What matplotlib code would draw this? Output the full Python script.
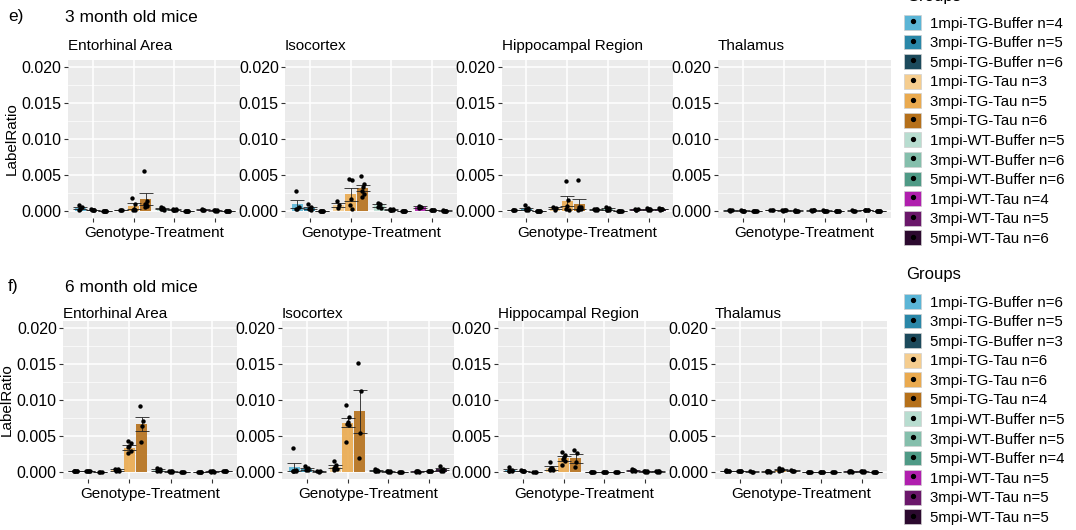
import numpy as np
import matplotlib
matplotlib.use("Agg")
import matplotlib.pyplot as plt
from matplotlib.patches import Patch
from matplotlib.lines import Line2D
from matplotlib.legend_handler import HandlerTuple

plt.rcParams['font.family'] = ['Liberation Sans', 'DejaVu Sans']

# Grupos (ordem da legenda) e cores
GRUPOS = ['1mpi-TG-Buffer', '3mpi-TG-Buffer', '5mpi-TG-Buffer',
          '1mpi-TG-Tau', '3mpi-TG-Tau', '5mpi-TG-Tau',
          '1mpi-WT-Buffer', '3mpi-WT-Buffer', '5mpi-WT-Buffer',
          '1mpi-WT-Tau', '3mpi-WT-Tau', '5mpi-WT-Tau']
CORES = ['#5bb5d6', '#2a87a8', '#1c4a5c',
         '#f5cd8f', '#eaaa4f', '#b5701a',
         '#b8ddd0', '#85bfac', '#4f9a86',
         '#b01fae', '#6a176a', '#2c0a2f']
REGIOES = ['Entorhinal Area', 'Isocortex', 'Hippocampal Region', 'Thalamus']
CATEGORIAS = ['TG-Buffer', 'TG-Tau', 'WT-Buffer', 'WT-Tau']

N_3M = [4, 5, 6, 3, 5, 6, 5, 6, 6, 4, 5, 6]
N_6M = [6, 5, 3, 6, 6, 4, 5, 5, 4, 5, 5, 5]

# --- 3 meses (valores em unidades de 1e-3) ---
media_3m_ea = [0.45, 0.12, 0.02, 0.12, 0.65, 1.7, 0.3, 0.15, 0.02, 0.15, 0.05, 0.03]
sem_3m_ea = [0.15, 0.04, 0.01, 0.03, 0.4, 0.85, 0.1, 0.05, 0.01, 0.04, 0.02, 0.01]
pontos_3m_ea = [[0.8, 0.6, 0.3, 0.1], [0.2, 0.15, 0.1, 0.08, 0.05], [0.03, 0.02, 0.02, 0.01, 0.02, 0.03],
                [0.15, 0.12, 0.1], [1.8, 0.9, 0.3, 0.15, 0.1], [5.5, 1.4, 1.0, 0.9, 0.7, 0.5],
                [0.5, 0.4, 0.3, 0.2, 0.1], [0.25, 0.2, 0.15, 0.1, 0.1, 0.1], [0.03, 0.02, 0.02, 0.02, 0.01, 0.02],
                [0.2, 0.15, 0.15, 0.1], [0.07, 0.05, 0.05, 0.04, 0.04], [0.04, 0.03, 0.03, 0.03, 0.02, 0.03]]

media_3m_iso = [0.95, 0.45, 0.03, 0.85, 2.3, 3.15, 0.75, 0.15, 0.03, 0.55, 0.1, 0.04]
sem_3m_iso = [0.6, 0.15, 0.01, 0.3, 0.9, 0.45, 0.15, 0.05, 0.01, 0.1, 0.03, 0.01]
pontos_3m_iso = [[2.7, 0.6, 0.3, 0.2], [0.9, 0.6, 0.4, 0.2, 0.1], [0.04, 0.03, 0.03, 0.02, 0.03, 0.03],
                 [1.4, 0.8, 0.4], [4.5, 4.3, 1.6, 0.8, 0.3], [4.8, 3.7, 3.3, 2.8, 2.4, 1.9],
                 [1.1, 0.9, 0.7, 0.6, 0.4], [0.3, 0.2, 0.15, 0.1, 0.1, 0.05], [0.04, 0.03, 0.03, 0.02, 0.03, 0.03],
                 [0.7, 0.6, 0.5, 0.4], [0.15, 0.1, 0.1, 0.08, 0.07], [0.05, 0.04, 0.04, 0.03, 0.04, 0.04]]

media_3m_hip = [0.1, 0.3, 0.03, 0.35, 1.35, 1.0, 0.2, 0.25, 0.03, 0.2, 0.22, 0.25]
sem_3m_hip = [0.03, 0.15, 0.01, 0.12, 0.7, 0.7, 0.05, 0.1, 0.01, 0.05, 0.05, 0.05]
pontos_3m_hip = [[0.15, 0.1, 0.08, 0.05], [0.75, 0.4, 0.2, 0.1, 0.05], [0.04, 0.03, 0.03, 0.02, 0.03, 0.03],
                 [0.6, 0.35, 0.1], [4.1, 1.5, 0.7, 0.3, 0.15], [4.3, 0.6, 0.5, 0.3, 0.2, 0.1],
                 [0.3, 0.25, 0.2, 0.15, 0.1], [0.6, 0.35, 0.2, 0.15, 0.1, 0.1], [0.04, 0.03, 0.03, 0.02, 0.03, 0.03],
                 [0.3, 0.2, 0.15, 0.15], [0.35, 0.25, 0.2, 0.15, 0.15], [0.4, 0.3, 0.25, 0.2, 0.2, 0.15]]

media_3m_tal = [0.05, 0.04, 0.03, 0.06, 0.05, 0.04, 0.05, 0.04, 0.03, 0.04, 0.08, 0.03]
sem_3m_tal = [0.01, 0.01, 0.01, 0.01, 0.01, 0.01, 0.01, 0.01, 0.01, 0.01, 0.02, 0.01]
pontos_3m_tal = [[0.06, 0.05, 0.05, 0.04], [0.05, 0.04, 0.04, 0.03, 0.04], [0.04, 0.03, 0.03, 0.02, 0.03, 0.03],
                 [0.07, 0.06, 0.05], [0.06, 0.05, 0.05, 0.04, 0.05], [0.05, 0.04, 0.04, 0.03, 0.04, 0.04],
                 [0.06, 0.05, 0.05, 0.04, 0.05], [0.05, 0.04, 0.04, 0.03, 0.04, 0.04], [0.04, 0.03, 0.03, 0.02, 0.03, 0.03],
                 [0.05, 0.04, 0.04, 0.03], [0.12, 0.09, 0.07, 0.06, 0.06], [0.04, 0.03, 0.03, 0.02, 0.03, 0.03]]

# --- 6 meses ---
media_6m_ea = [0.1, 0.08, 0.03, 0.25, 3.35, 6.7, 0.25, 0.05, 0.03, 0.02, 0.05, 0.1]
sem_6m_ea = [0.03, 0.02, 0.01, 0.08, 0.35, 1.0, 0.1, 0.02, 0.01, 0.01, 0.02, 0.03]
pontos_6m_ea = [[0.15, 0.12, 0.1, 0.1, 0.08, 0.05], [0.12, 0.1, 0.08, 0.05, 0.05], [0.04, 0.03, 0.02],
                [0.45, 0.35, 0.25, 0.2, 0.15, 0.1], [4.3, 4.0, 3.6, 3.4, 2.9, 2.6], [9.1, 7.1, 6.4, 4.2],
                [0.5, 0.35, 0.2, 0.15, 0.1], [0.08, 0.06, 0.05, 0.04, 0.03], [0.04, 0.03, 0.03, 0.02],
                [0.03, 0.02, 0.02, 0.02, 0.01], [0.07, 0.06, 0.05, 0.04, 0.03], [0.15, 0.12, 0.1, 0.08, 0.05]]

media_6m_iso = [0.65, 0.45, 0.05, 0.7, 6.85, 8.4, 0.2, 0.05, 0.03, 0.05, 0.1, 0.35]
sem_6m_iso = [0.55, 0.15, 0.01, 0.2, 0.65, 2.95, 0.06, 0.02, 0.01, 0.01, 0.02, 0.15]
pontos_6m_iso = [[3.3, 0.2, 0.15, 0.1, 0.1, 0.05], [0.8, 0.5, 0.4, 0.3, 0.25], [0.06, 0.05, 0.04],
                 [1.5, 0.95, 0.7, 0.5, 0.35, 0.2], [9.3, 7.6, 7.0, 6.6, 6.5, 4.1], [15.1, 11.2, 5.4, 1.9],
                 [0.45, 0.3, 0.15, 0.1, 0.05], [0.08, 0.06, 0.05, 0.04, 0.03], [0.04, 0.03, 0.03, 0.02],
                 [0.07, 0.06, 0.05, 0.04, 0.03], [0.14, 0.12, 0.1, 0.08, 0.06], [0.8, 0.4, 0.3, 0.15, 0.1]]

media_6m_hip = [0.25, 0.15, 0.03, 0.55, 1.9, 1.9, 0.03, 0.03, 0.03, 0.22, 0.05, 0.05]
sem_6m_hip = [0.1, 0.03, 0.01, 0.3, 0.35, 0.65, 0.01, 0.01, 0.01, 0.05, 0.01, 0.01]
pontos_6m_hip = [[0.65, 0.3, 0.2, 0.15, 0.1, 0.1], [0.2, 0.18, 0.15, 0.12, 0.1], [0.04, 0.03, 0.02],
                 [1.4, 0.5, 0.5, 0.4, 0.3, 0.2], [2.7, 2.4, 2.0, 1.8, 1.5, 1.0], [3.05, 2.6, 1.3, 0.65],
                 [0.04, 0.03, 0.03, 0.02, 0.03], [0.04, 0.03, 0.03, 0.02, 0.03], [0.04, 0.03, 0.03, 0.02],
                 [0.35, 0.3, 0.2, 0.15, 0.1], [0.07, 0.06, 0.05, 0.04, 0.03], [0.07, 0.06, 0.05, 0.04, 0.03]]

media_6m_tal = [0.12, 0.08, 0.04, 0.06, 0.3, 0.15, 0.03, 0.03, 0.03, 0.05, 0.05, 0.03]
sem_6m_tal = [0.03, 0.02, 0.01, 0.02, 0.1, 0.05, 0.01, 0.01, 0.01, 0.01, 0.01, 0.01]
pontos_6m_tal = [[0.2, 0.15, 0.12, 0.1, 0.08, 0.07], [0.12, 0.1, 0.08, 0.06, 0.05], [0.05, 0.04, 0.03],
                 [0.1, 0.08, 0.06, 0.05, 0.04, 0.03], [0.5, 0.4, 0.3, 0.25, 0.2, 0.15], [0.25, 0.18, 0.1, 0.07],
                 [0.04, 0.03, 0.03, 0.02, 0.03], [0.04, 0.03, 0.03, 0.02, 0.03], [0.04, 0.03, 0.03, 0.02],
                 [0.07, 0.06, 0.05, 0.04, 0.03], [0.07, 0.06, 0.05, 0.04, 0.03], [0.04, 0.03, 0.03, 0.02, 0.03]]

W, H = 1076, 530


def eixo(fig, x0, x1, y0, y1):
    # coordenadas em pixels (origem no topo) -> fração da figura
    return fig.add_axes([x0 / W, 1 - y1 / H, (x1 - x0) / W, (y1 - y0) / H])


def painel(ax, medias, sems, pontos, titulo, mostrar_ylabel, pad_titulo):
    ax.set_facecolor('#ebebeb')
    for s in ax.spines.values():
        s.set_visible(False)
    ax.set_axisbelow(True)
    ax.set_xlim(0.4, 4.6)
    ax.set_ylim(-0.001, 0.021)
    ax.set_yticks([0, 0.005, 0.010, 0.015, 0.020])
    ax.set_yticklabels(['0.000', '0.005', '0.010', '0.015', '0.020'])
    ax.set_yticks([0.0025, 0.0075, 0.0125, 0.0175], minor=True)
    ax.set_xticks([1, 2, 3, 4])
    ax.set_xticklabels([])
    ax.grid(which='major', color='white', lw=1.1)
    ax.grid(which='minor', axis='y', color='white', lw=0.5)
    ax.tick_params(which='major', length=3, color='#333333', labelsize=11.5, labelcolor='black', pad=1.5)
    ax.tick_params(which='minor', length=0)

    for i in range(12):
        cat, k = divmod(i, 3)
        xc = cat + 1 + (k - 1) * 0.3
        m = medias[i] * 1e-3
        e = sems[i] * 1e-3
        ax.bar(xc, m, width=0.8 / 3, color=CORES[i], alpha=0.9, zorder=2)
        ax.errorbar(xc, m, yerr=e, fmt='none', ecolor='#222222', elinewidth=0.6,
                    capsize=5, capthick=0.6, zorder=3)
        pts = np.array(pontos[i]) * 1e-3
        desloc = np.array([-0.04, 0.03, 0.0, -0.02, 0.04, -0.03])[:len(pts)]
        ax.scatter(xc + desloc, pts, s=10, color='black', zorder=4, linewidths=0)

    ax.set_title(titulo, loc='left', fontsize=11, pad=pad_titulo)
    ax.set_xlabel('Genotype-Treatment', fontsize=11, labelpad=1)
    if mostrar_ylabel:
        ax.set_ylabel('LabelRatio', fontsize=11, labelpad=2)


def legenda(fig, ns, y_topo, y_titulo):
    handles = [(Patch(facecolor=c, edgecolor='#d0d0d0', lw=0.5),
                Line2D([], [], ls='none', marker='o', ms=2.8, color='black')) for c in CORES]
    labels = [f'{g} n={n}' for g, n in zip(GRUPOS, ns)]
    fig.legend(handles, labels, loc='upper left',
               bbox_to_anchor=(904 / W, 1 - y_topo / H), frameon=False,
               fontsize=10.8, handlelength=1.15, handleheight=1.15,
               labelspacing=0.27, handletextpad=0.55, borderpad=0, borderaxespad=0,
               handler_map={tuple: HandlerTuple(ndivide=1, pad=0)})
    fig.text(906 / W, 1 - y_titulo / H, 'Groups', fontsize=12, va='center')


fig = plt.figure(figsize=(W / 100, H / 100), dpi=100)

# linha e) 3 meses
xs_e = [(68, 240), (285, 457), (502, 673), (718, 891)]
dados_e = [(media_3m_ea, sem_3m_ea, pontos_3m_ea), (media_3m_iso, sem_3m_iso, pontos_3m_iso),
           (media_3m_hip, sem_3m_hip, pontos_3m_hip), (media_3m_tal, sem_3m_tal, pontos_3m_tal)]
for j, ((x0, x1), (m, s, p)) in enumerate(zip(xs_e, dados_e)):
    ax = eixo(fig, x0, x1, 60, 218)
    painel(ax, m, s, p, REGIOES[j], j == 0, 7)

# linha f) 6 meses
xs_f = [(63, 237), (282, 454), (498, 670), (715, 887)]
dados_f = [(media_6m_ea, sem_6m_ea, pontos_6m_ea), (media_6m_iso, sem_6m_iso, pontos_6m_iso),
           (media_6m_hip, sem_6m_hip, pontos_6m_hip), (media_6m_tal, sem_6m_tal, pontos_6m_tal)]
for j, ((x0, x1), (m, s, p)) in enumerate(zip(xs_f, dados_f)):
    ax = eixo(fig, x0, x1, 321, 479)
    painel(ax, m, s, p, REGIOES[j], j == 0, 2)

fig.text(8 / W, 1 - 17 / H, 'e)', fontsize=12.5, va='center')
fig.text(65 / W, 1 - 17 / H, '3 month old mice', fontsize=12.5, va='center')
fig.text(8 / W, 1 - 287 / H, 'f)', fontsize=12.5, va='center')
fig.text(65 / W, 1 - 287 / H, '6 month old mice', fontsize=12.5, va='center')

legenda(fig, N_3M, 15, -3)
legenda(fig, N_6M, 294, 274)

fig.savefig('out.png', dpi=100)
